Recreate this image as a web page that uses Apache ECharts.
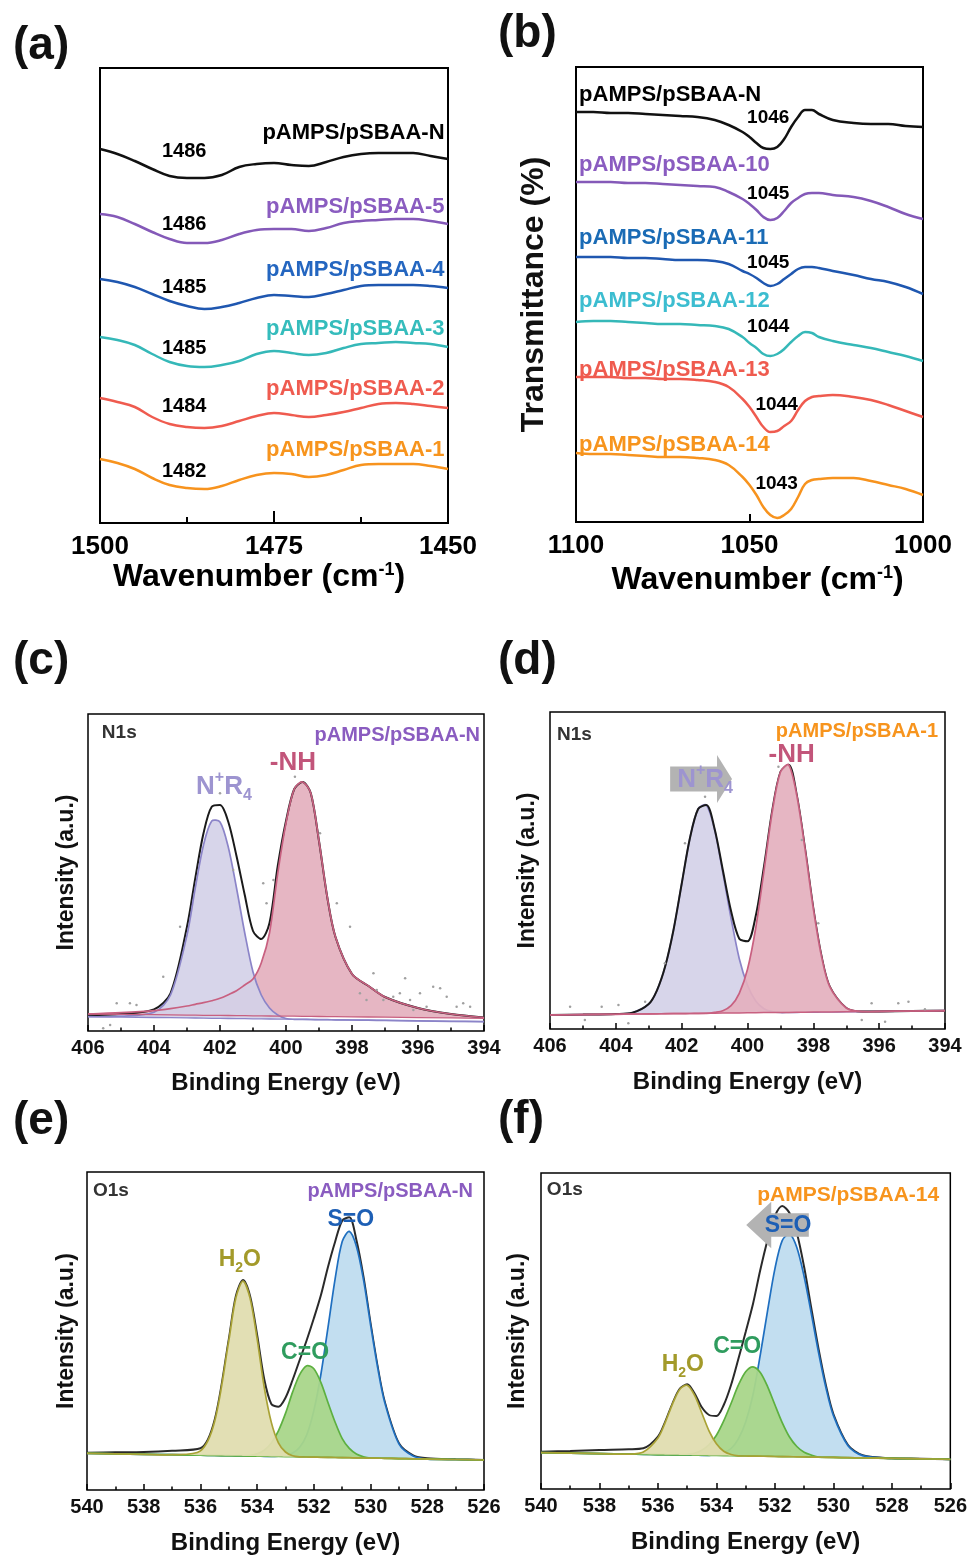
<!DOCTYPE html>
<html><head><meta charset="utf-8">
<script src="https://cdn.jsdelivr.net/npm/echarts@6/dist/echarts.min.js"></script>
<style>html,body{margin:0;padding:0;background:#fff}#c{width:970px;height:1556px}</style>
</head><body><div id="c"></div>
<script>
// ---------- (a) FTIR 1500-1450 ----------
const A_X  = [1500,1497.5,1495,1492.5,1490,1487.5,1485,1482.5,1480,1477.5,1475,1472.5,1470,1467.5,1465,1462.5,1460,1457.5,1455,1452.5,1450];
const A_N  = [374,369,362,354,347,345,345,348,356,359,360,358,357,361,366,369,370,370,370,367,364];
const A_5  = [309,306,299,291,284,280,280,283,289,293,294,294,292,295,300,302,303,304,304,302,299];
const A_4  = [244,241,236,229,222,217,214,216,220,225,228,227,226,229,233,237,238,238,238,237,235];
const A_3  = [186,183,178,169,161,157,156,158,162,169,172,170,168,170,175,179,180,181,180,179,176];
const A_2  = [125,121,116,106,99,96,95,97,102,107,110,108,106,108,111,115,119,120,119,117,115];
const A_1  = [64,60,54,45,38,35,34,37,43,48,50,49,46,48,53,58,59,59,59,57,54];
const A_NAMES = ['pAMPS/pSBAA-N','pAMPS/pSBAA-5','pAMPS/pSBAA-4','pAMPS/pSBAA-3','pAMPS/pSBAA-2','pAMPS/pSBAA-1'];
const A_PEAKS = ['1486','1486','1485','1485','1484','1482'];

// ---------- (b) FTIR 1100-1000 ----------
const B_X  = [1100,1095,1090,1085,1080,1075,1070,1065,1060,1056,1052,1050,1048,1046,1044,1042,1040,1038,1036,1034,1032,1030,1026,1020,1015,1010,1005,1000];
const B_N  = [410,410,409,409,408,407,406,405,402,397,390,385,379,374,373,375,383,395,405,412,412,408,402,399,398,398,396,395];
const B_10 = [340,340,340,339,339,338,337,336,335,330,323,318,312,305,302,304,311,319,324,328,329,329,327,325,321,315,308,303];
const B_11 = [265,265,265,264,264,263,262,262,261,258,251,248,244,239,236,238,243,248,253,255,255,254,251,247,243,240,235,228];
const B_12 = [200,201,201,200,199,198,198,197,196,193,185,179,174,168,166,168,173,180,186,190,189,185,181,177,174,170,166,161];
const B_13 = [145,145,145,144,144,143,143,142,140,135,123,115,105,95,90,91,96,101,112,121,125,126,127,125,122,117,111,105];
const B_14 = [69,68,68,67,66,65,65,64,62,57,45,37,27,15,7,4,7,13,25,38,42,43,44,44,41,37,33,27];
const B_NAMES = ['pAMPS/pSBAA-N','pAMPS/pSBAA-10','pAMPS/pSBAA-11','pAMPS/pSBAA-12','pAMPS/pSBAA-13','pAMPS/pSBAA-14'];
const B_PEAKS = ['1046','1045','1045','1044','1044','1043'];

// ---------- (c) N1s pAMPS/pSBAA-N ----------
const C_E      = [406,405,404,403.5,403,402.75,402.5,402.25,402,401.75,401.5,401.25,401,400.75,400.5,400.25,400,399.75,399.5,399.25,399,398.75,398.5,398,397.5,397,396,395,394];
const C_BASE_Q = [14.3,13.9,13.5,13.3,13.1,13.0,12.8,12.7,12.6,12.5,12.4,12.3,12.2,12.1,12.0,11.9,11.8,11.7,11.6,11.5,11.4,11.3,11.2,11.0,10.8,10.6,10.1,9.7,9.3];
const C_QUAT   = [14.3,14.8,18.7,36,96,143,186,210,209,184,143,98,59,36,23,16,12.5,11.7,11.6,11.5,11.4,11.3,11.2,11.0,10.8,10.6,10.1,9.7,9.3];
const C_BASE_N = [17,16.6,16.3,16.1,15.9,15.8,15.7,15.7,15.6,15.5,15.4,15.3,15.2,15.1,15.0,14.9,14.9,14.8,14.7,14.6,14.5,14.4,14.3,14.1,14.0,13.8,13.4,13.1,12.7];
const C_NH     = [17,18.3,20.3,22.3,25,26.7,28.3,30.3,32.7,36.3,40.3,46,52,68,98,157.7,208,242,249,238,190,134,94,57,45,34,23,17,13.5];
const C_ENV    = [16,17,21.7,37.7,104.3,152.7,197.7,224.3,226,209.3,175,136,100,92,108,165,210,242,249,238,190,134,94,57,45,34,23,17,13.5];
const C_DOTS   = [[405.54,2.7],[405.33,6],[405.13,27.7],[404.73,27.7],[404.53,26],[403.72,54.3],[403.21,104.3],[402.0,237.7],[401.6,161],[400.69,147.7],[400.59,127.7],[400.38,151],[399.73,254.3],[398.97,197.7],[398.46,127.7],[398.06,104.3],[397.76,37.7],[397.56,31],[397.35,57.7],[397.25,41],[397.05,31],[396.75,34.3],[396.55,37.7],[396.39,52.7],[396.24,31],[396.14,21],[395.94,37.7],[395.74,24.3],[395.54,44.3],[395.33,42.7],[395.13,34.3],[394.83,24.3],[394.63,27.7],[394.42,24.3]];

// ---------- (d) N1s pAMPS/pSBAA-1 ----------
const D_E    = [406,405,404,403.5,403,402.75,402.5,402.25,402,401.75,401.5,401.25,401,400.75,400.5,400.25,400,399.75,399.5,399.25,399,398.75,398.5,398.25,398,397.75,397.5,397,396.5,396,395,394];
const D_BASE = [14,14.4,14.7,14.9,15.1,15.2,15.3,15.4,15.4,15.5,15.6,15.7,15.8,15.9,16,16.1,16.2,16.3,16.4,16.4,16.5,16.6,16.7,16.8,16.9,17,17.1,17.3,17.4,17.6,18,18.3];
const D_QUAT = [14,14.4,15,16.3,25,38.7,62.7,98.7,145,190.7,220,224,199.3,156.3,110.7,70.3,43.7,28,20.3,17.3,16.5,16.6,16.7,16.8,16.9,17,17.1,17.3,17.4,17.6,18,18.3];
const D_NH   = [14,14.4,14.7,14.9,15.1,15.2,15.3,15.4,15.4,15.5,15.6,15.7,16.7,18.3,23.3,35.7,59.7,101,158,217,257,264.3,233.3,180,120.7,72.7,42.3,21,17.4,17.6,18,18.3];
const D_ENV  = [14,14.4,15,16.3,25,38.7,62.7,98.7,145,190.7,220,224,200.3,159,118,90.3,87.7,113,162.3,218,257,264.3,233.3,180,120.7,72.7,42.3,21,17.4,17.6,18,18.3];
const D_DOTS = [[405.39,22.3],[404.94,9],[404.43,22.3],[403.92,24],[403.62,5.7],[403.11,27.3],[402.51,65.7],[401.9,185.7],[401.29,232.3],[399.06,262.3],[398.35,189],[397.85,105.7],[396.53,9],[396.23,25.7],[395.82,7.3],[395.42,25.7],[395.11,27.3],[394.61,19.7]];

// ---------- (e) O1s pAMPS/pSBAA-N ----------
const E_E    = [540,539,538,537,536,535.5,535,534.75,534.5,534.25,534,533.75,533.5,533.25,533,532.75,532.5,532.25,532,531.75,531.5,531.25,531,530.75,530.5,530.25,530,529.75,529.5,529,528.5,528,527,526];
const E_BASE = [36.7,36.2,35.7,35.3,34.8,34.5,34.3,34.2,34.1,33.9,33.8,33.7,33.6,33.5,33.3,33.2,33.1,33.0,32.9,32.7,32.6,32.5,32.4,32.3,32.1,32.0,31.9,31.8,31.7,31.4,31.2,30.9,30.5,30.0];
const E_H2O  = [36.7,36.2,35.7,35.3,39.1,68.5,149.3,192.2,208.8,191.9,151.1,102.7,67.6,47.2,38,34.2,33.1,33.0,32.9,32.7,32.6,32.5,32.4,32.3,32.1,32.0,31.9,31.8,31.7,31.4,31.2,30.9,30.5,30.0];
const E_CO   = [36.7,36.2,35.7,35.3,34.8,34.5,34.3,34.2,34.4,34.6,36.1,39.7,46.9,59.2,76.6,97.9,115.4,124.3,121.2,107.4,87.3,67.8,51.4,41.6,36.1,33.3,31.9,31.8,31.7,31.4,31.2,30.9,30.5,30.0];
const E_SO   = [36.7,36.2,35.7,35.3,34.8,34.5,34.3,34.2,34.1,33.9,33.8,33.7,33.6,33.8,34.3,36.9,42.8,55.3,79.6,116,162.9,211.2,248.4,258.6,243.8,210.3,165.2,122.5,87.4,46.1,33.9,30.9,30.5,30.0];
const E_ENV  = [37.3,37.7,38,39.3,41.7,70,150.7,194,210,194,155,110.7,86,83.3,92.3,110,130,150,171.7,195,223.3,248.3,269.3,272.7,250,213.3,166.7,123.3,88.3,46.7,34.7,31.7,30.7,30];

// ---------- (f) O1s pAMPS/pSBAA-14 ----------
const F_E    = [540,539,538,537,536.5,536,535.75,535.5,535.25,535,534.75,534.5,534.25,534,533.75,533.5,533.25,533,532.75,532.5,532.25,532,531.75,531.5,531.25,531,530.75,530.5,530.25,530,529.5,529,528,527,526];
const F_BASE = [36.3,35.9,35.4,34.9,34.7,34.4,34.3,34.2,34.1,34.0,33.8,33.7,33.6,33.5,33.4,33.2,33.1,33.0,32.9,32.8,32.7,32.5,32.4,32.3,32.2,32.1,31.9,31.8,31.7,31.6,31.3,31.1,30.6,30.2,29.7];
const F_H2O  = [36.3,35.9,35.4,34.9,37,51.1,66.6,85.2,99.8,103.7,93.8,76,57.9,45.2,37.7,34.5,33.1,33.0,32.9,32.8,32.7,32.5,32.4,32.3,32.2,32.1,31.9,31.8,31.7,31.6,31.3,31.1,30.6,30.2,29.7];
const F_CO   = [36.3,35.9,35.4,34.9,34.7,34.4,34.3,34.2,34.4,34.7,35.8,38.7,44.3,53.8,68.1,85.5,103.8,117.3,122.2,116.5,102.4,84.2,66.4,52,42.5,36.8,33.9,31.8,31.7,31.6,31.3,31.1,30.6,30.2,29.7];
const F_SO   = [36.3,35.9,35.4,34.9,34.7,34.4,34.3,34.2,34.1,34.0,33.8,33.7,33.6,34.5,36.4,40.5,50.1,67,94.2,134.1,178.4,220.2,248.4,255,241.5,212.4,174.6,135.5,100.7,73.6,43.3,33.4,30.6,30.2,29.7];
const F_ENV  = [37.3,38,39,39.7,40.7,52.3,67.3,85.7,100.3,104.7,95.7,81.7,74,73,84,104,130,157,185,219,249,273,283,276,256,222,180,139,103,75,44,33.7,30.7,30.3,29.7];

// ---------- styling ----------
const FONT = '"Liberation Sans", Arial, Helvetica, sans-serif';
const LINE_COL  = ['#111111','#8459b8','#1f57b0','#35b8b8','#ef5b4f','#f7931e'];
const LABEL_A   = ['#000000','#8a5cc0','#2466c0','#35bcbc','#ef5b4f','#f7941d'];
const LABEL_B   = ['#000000','#8a5cc0','#1a6bb5','#3cbdd0','#ef5b4f','#f7941d'];
const QUAT_COL = ['#8b84c8','rgba(212,209,232,0.92)'];
const NH_COL   = ['#c86080','rgba(228,176,190,0.92)'];
const H2O_COL  = ['#a9a235','rgba(224,221,176,0.95)'];
const CO_COL   = ['#5db040','rgba(169,214,138,0.95)'];
const SO_COL   = ['#1f6fc0','rgba(191,220,239,0.95)'];

const P = (xs, ys) => xs.map((x, i) => [x, ys[i]]);
const plain = v => String(v);

const grids = [
  {left:100, top:68,   width:348, height:455},
  {left:576, top:67,   width:347, height:455},
  {left:88,  top:714,  width:396, height:317},
  {left:550, top:712,  width:395, height:317},
  {left:87,  top:1172, width:397, height:318},
  {left:541, top:1173, width:411, height:316}
].map((g, i) => Object.assign({show:true, borderColor:'#000', borderWidth: i < 2 ? 2 : 1.5, backgroundColor:'transparent'}, g));

function ftX(g, min, max, interval, tickLen, minor, gap, pad) {
  return {type:'value', gridIndex:g, min, max, interval, inverse:true,
    axisLine:{show:false}, splitLine:{show:false},
    axisTick:{show:true, inside:true, length:tickLen, lineStyle:{color:'#000', width:2}},
    minorTick: minor ? {show:true, splitNumber:2, length:6, lineStyle:{color:'#000', width:2}} : {show:false},
    axisLabel:{fontSize:26, fontWeight:'bold', color:'#000', fontFamily:FONT, margin:11, formatter:plain},
    name:'Wavenumber (cm{sup|-1})', nameLocation:'middle', nameGap:gap,
    nameTextStyle:{fontSize:32, fontWeight:'bold', color:'#000', fontFamily:FONT, padding:pad,
      rich:{sup:{fontSize:18, fontWeight:'bold', color:'#000', fontFamily:FONT, verticalAlign:'top'}}}};
}
function xpsX(g, min, max, gap) {
  return {type:'value', gridIndex:g, min, max, interval:2, inverse:true,
    axisLine:{show:false}, splitLine:{show:false},
    axisTick:{show:true, inside:true, length:6, lineStyle:{color:'#000', width:1.5}},
    minorTick:{show:true, splitNumber:2, length:3.5, lineStyle:{color:'#000', width:1.5}},
    axisLabel:{fontSize:20, fontWeight:'bold', color:'#111', fontFamily:FONT, margin:7, formatter:plain},
    name:'Binding Energy (eV)', nameLocation:'middle', nameGap:gap,
    nameTextStyle:{fontSize:24, fontWeight:'bold', color:'#111', fontFamily:FONT}};
}
function yAx(g, max, name, size, gap) {
  return {type:'value', gridIndex:g, min:0, max,
    axisLine:{show:false}, axisTick:{show:false}, axisLabel:{show:false}, splitLine:{show:false},
    name: name || '', nameLocation:'middle', nameGap: gap || 0,
    nameTextStyle:{fontSize: size || 22, fontWeight:'bold', color:'#111', fontFamily:FONT}};
}

const series = [];
function line(g, xs, ys, color, width, z, smooth) {
  series.push({type:'line', xAxisIndex:g, yAxisIndex:g, data:P(xs, ys), symbol:'none', silent:true,
    smooth: smooth == null ? 0.35 : smooth, lineStyle:{color, width}, z});
}
// fitted component: fill between its own baseline and its curve, outline drawn at its own layer
function comp(g, xs, base, vals, cols, zFill, zLine, baseW) {
  const build = (api, part) => {
    const top = xs.map((x, i) => api.coord([x, vals[i]]));
    const bot = xs.map((x, i) => api.coord([x, base[i]]));
    if (part === 'fill') {
      return {type:'polygon', shape:{points: top.concat(bot.slice().reverse()), smooth:0.3}, style:{fill:cols[1], stroke:null}};
    }
    const kids = [{type:'polyline', shape:{points: top, smooth:0.3}, style:{stroke:cols[0], lineWidth:1.7, fill:null}}];
    if (baseW) kids.push({type:'polyline', shape:{points: bot}, style:{stroke:cols[0], lineWidth:baseW, fill:null}});
    return {type:'group', children:kids};
  };
  ['fill', 'line'].forEach(part => series.push({type:'custom', xAxisIndex:g, yAxisIndex:g,
    z: part === 'fill' ? zFill : zLine, silent:true, data:P(xs, vals), encode:{x:0, y:1},
    renderItem: (params, api) => params.dataIndex === 0 ? build(api, part) : null}));
}
function dots(g, pts) {
  series.push({type:'scatter', xAxisIndex:g, yAxisIndex:g, data:pts, symbolSize:2.5, silent:true,
    itemStyle:{color:'#a0a0a0', opacity:1}, z:6});
}
function richFor(size, color) {
  const s = Math.round(size * 0.6);
  return {
    m:{fontSize:size, fontWeight:'bold', color, fontFamily:FONT, lineHeight:size + 8, verticalAlign:'middle'},
    sup:{fontSize:s, fontWeight:'bold', color, fontFamily:FONT, verticalAlign:'top'},
    sub:{fontSize:s, fontWeight:'bold', color, fontFamily:FONT, verticalAlign:'bottom'}
  };
}
function ann(g, items) {
  series.push({type:'scatter', xAxisIndex:g, yAxisIndex:g, symbolSize:1, silent:true, z:10,
    itemStyle:{color:'rgba(0,0,0,0)', opacity:1},
    data: items.map(it => ({value:[it[0], it[1]], label:{show:true, position:'inside', formatter:it[2],
      color:it[3], opacity:1, textBorderWidth:0, fontSize:it[4], fontWeight:'bold', fontFamily:FONT, align:it[5] || 'center',
      verticalAlign:'middle', rich:richFor(it[4], it[3])}}))});
}

// (a)
[A_N, A_5, A_4, A_3, A_2, A_1].forEach((ys, i) => line(0, A_X, ys, LINE_COL[i], 2.5, 3, 0.4));
const A_NAME_Y = [389.7, 316.3, 253, 193.7, 133.7, 73];
const A_PEAK_Y = [371.3, 299, 235.7, 174.7, 116.3, 51.3];
ann(0, A_NAMES.map((t, i) => [1450.5, A_NAME_Y[i], t, LABEL_A[i], 22, 'right'])
  .concat(A_PEAKS.map((t, i) => [1487.9, A_PEAK_Y[i], t, '#000', 20])));

// (b)
[B_N, B_10, B_11, B_12, B_13, B_14].forEach((ys, i) => line(1, B_X, ys, LINE_COL[i], 2.5, 3, 0.4));
const B_NAME_Y = [427, 357, 283.7, 221.3, 152, 77];
const B_PEAK_POS = [[1044.6,404.7],[1044.6,328.7],[1044.6,259.3],[1044.6,195.3],[1042.2,117],[1042.2,38]];
ann(1, B_NAMES.map((t, i) => [1099.1, B_NAME_Y[i], t, LABEL_B[i], 22, 'left'])
  .concat(B_PEAKS.map((t, i) => [B_PEAK_POS[i][0], B_PEAK_POS[i][1], t, '#000', 19])));

// (c)  layers: -NH fill < envelope < N+R4 < -NH outline
comp(2, C_E, C_BASE_N, C_NH, NH_COL, 2, 5, 1.3);
line(2, C_E, C_ENV, '#1a1a1a', 2, 3, 0.3);
comp(2, C_E, C_BASE_Q, C_QUAT, QUAT_COL, 4, 4, 1.3);
dots(2, C_DOTS);
ann(2, [
  [405.58, 298, 'N1s', '#333', 19, 'left'],
  [394.12, 296, 'pAMPS/pSBAA-N', '#8a5cc0', 20, 'right'],
  [399.79, 268, '-NH', '#c2557a', 26],
  [401.88, 244, '{m|N}{sup|+}{m|R}{sub|4}', '#9d94d0', 26]
]);

// (d)
comp(3, D_E, D_BASE, D_QUAT, QUAT_COL, 2, 2, 0);
line(3, D_E, D_ENV, '#1a1a1a', 2, 3, 0.3);
comp(3, D_E, D_BASE, D_NH, NH_COL, 4, 4, 1.5);
dots(3, D_DOTS);
ann(3, [
  [405.79, 294, 'N1s', '#333', 19, 'left'],
  [394.21, 297.3, 'pAMPS/pSBAA-1', '#f7941d', 20, 'right'],
  [398.66, 274, '-NH', '#c2557a', 26],
  [401.29, 249, '{m|N}{sup|+}{m|R}{sub|4}', '#9d94d0', 26]
]);

// (e)
line(4, E_E, E_ENV, '#2a2a2a', 2, 2, 0.3);
comp(4, E_E, E_BASE, E_SO, SO_COL, 3, 3, 0);
comp(4, E_E, E_BASE, E_CO, CO_COL, 4, 4, 1.6);
comp(4, E_E, E_BASE, E_H2O, H2O_COL, 5, 5, 0);
ann(4, [
  [539.79, 299.3, 'O1s', '#333', 19, 'left'],
  [526.39, 298.3, 'pAMPS/pSBAA-N', '#8a5cc0', 20, 'right'],
  [530.70, 270, 'S=O', '#1d5fb5', 23],
  [534.61, 230, '{m|H}{sub|2}{m|O}', '#a39a2a', 23],
  [532.31, 137, 'C=O', '#2f9c5e', 23]
]);

// (f)
line(5, F_E, F_ENV, '#2a2a2a', 2, 2, 0.3);
comp(5, F_E, F_BASE, F_SO, SO_COL, 3, 3, 0);
comp(5, F_E, F_BASE, F_CO, CO_COL, 4, 4, 1.6);
comp(5, F_E, F_BASE, F_H2O, H2O_COL, 5, 5, 0);
ann(5, [
  [539.80, 299, 'O1s', '#333', 19, 'left'],
  [526.38, 294, 'pAMPS/pSBAA-14', '#f7941d', 21, 'right'],
  [531.55, 263, 'S=O', '#1d5fb5', 23],
  [535.15, 124, '{m|H}{sub|2}{m|O}', '#a39a2a', 23],
  [533.29, 142.3, 'C=O', '#2f9c5e', 23]
]);

const option = {
  animation:false,
  backgroundColor:'#fff',
  grid: grids,
  xAxis: [
    ftX(0, 1450, 1500, 25, 12, true, 38, [0, 30, 0, 0]),
    ftX(1, 1000, 1100, 50, 8, false, 42, [0, 0, 0, 16]),
    xpsX(2, 394, 406, 40),
    xpsX(3, 394, 406, 41),
    xpsX(4, 526, 540, 41),
    xpsX(5, 526, 540, 41)
  ],
  yAxis: [
    yAx(0, 455),
    yAx(1, 455, 'Transmittance (%)', 32, 26),
    yAx(2, 317, 'Intensity (a.u.)', 23, 10),
    yAx(3, 317, 'Intensity (a.u.)', 23, 11),
    yAx(4, 318, 'Intensity (a.u.)', 23, 9),
    yAx(5, 316, 'Intensity (a.u.)', 23, 12)
  ],
  series
};

const chart = echarts.init(document.getElementById('c'), null, {renderer:'canvas'});
chart.setOption(option);

const toPx = (g, p) => chart.convertToPixel({xAxisIndex:g, yAxisIndex:g}, p);
function arrowPts(tail, tip, hb, hh, L) {
  const dir = Math.sign(tip[0] - tail[0]);
  const y = tip[1], hx = tip[0] - dir * L;
  return [[tail[0], y - hb], [hx, y - hb], [hx, y - hh], [tip[0], y], [hx, y + hh], [hx, y + hb], [tail[0], y + hb]];
}
const LETTERS = [['(a)', 13, 46], ['(b)', 498, 34], ['(c)', 13, 661], ['(d)', 498, 661], ['(e)', 13, 1121], ['(f)', 498, 1120]];
const graphics = LETTERS.map(l => ({type:'text', x:l[1], y:l[2], z:20,
  style:{text:l[0], font:'bold 46px ' + FONT, fill:'#111', textAlign:'left', align:'left', textVerticalAlign:'middle', verticalAlign:'middle'}}));
graphics.push({type:'polygon', z:7, shape:{points: arrowPts(toPx(3, [402.35, 250]), toPx(3, [400.47, 250]), 12.5, 24, 15)}, style:{fill:'#b3b3b3'}});
graphics.push({type:'polygon', z:7, shape:{points: arrowPts(toPx(5, [530.84, 264]), toPx(5, [532.98, 264]), 11.7, 23.3, 25)}, style:{fill:'#b3b3b3'}});
chart.setOption({graphic: graphics});
</script></body></html>
